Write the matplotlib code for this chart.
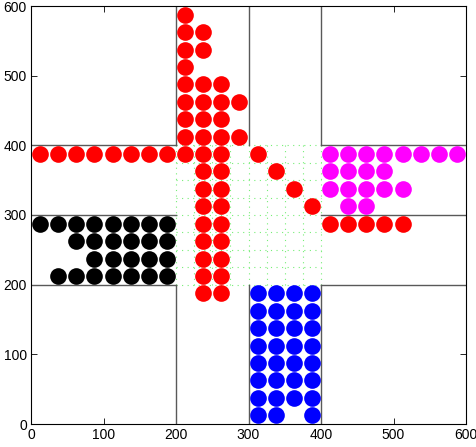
import numpy as np
import matplotlib
import matplotlib.pyplot as plt

matplotlib.use('agg')
plt.rcParams['font.family'] = ['Liberation Sans', 'DejaVu Sans']

# vehicle centres, grouped by row (y: list of x)
red = {
    587.5: [212.5],
    562.5: [212.5, 237.5],
    537.5: [212.5, 237.5],
    512.5: [212.5],
    487.5: [212.5, 237.5, 262.5],
    462.5: [212.5, 237.5, 262.5, 287.5],
    437.5: [212.5, 237.5, 262.5],
    412.5: [212.5, 237.5, 262.5, 287.5],
    387.5: [12.5, 37.5, 62.5, 87.5, 112.5, 137.5, 162.5, 187.5, 212.5, 237.5, 262.5, 312.5],
    362.5: [237.5, 262.5, 337.5],
    337.5: [237.5, 262.5, 362.5],
    312.5: [237.5, 262.5, 387.5],
    287.5: [237.5, 262.5, 412.5, 437.5, 462.5, 487.5, 512.5],
    262.5: [237.5, 262.5],
    237.5: [237.5, 262.5],
    212.5: [237.5, 262.5],
    187.5: [237.5, 262.5],
}
magenta = {
    387.5: [412.5, 437.5, 462.5, 487.5, 512.5, 537.5, 562.5, 587.5],
    362.5: [412.5, 437.5, 462.5, 487.5],
    337.5: [412.5, 437.5, 462.5, 487.5, 512.5],
    312.5: [437.5, 462.5],
}
black = {
    287.5: [12.5, 37.5, 62.5, 87.5, 112.5, 137.5, 162.5, 187.5],
    262.5: [62.5, 87.5, 112.5, 137.5, 162.5, 187.5],
    237.5: [87.5, 112.5, 137.5, 162.5, 187.5],
    212.5: [37.5, 62.5, 87.5, 112.5, 137.5, 162.5, 187.5],
}
blue = {
    187.5: [312.5, 337.5, 362.5, 387.5],
    162.5: [312.5, 337.5, 362.5, 387.5],
    137.5: [312.5, 337.5, 362.5, 387.5],
    112.5: [312.5, 337.5, 362.5, 387.5],
    87.5: [312.5, 337.5, 362.5, 387.5],
    62.5: [312.5, 337.5, 362.5, 387.5],
    37.5: [312.5, 337.5, 362.5, 387.5],
    12.5: [312.5, 337.5, 387.5],
}

# road kerbs / lane divider and intersection cell grid
road_lines = [200, 300, 400]
road_spans = [(0, 200), (400, 600)]
cell_lines = np.arange(200, 401, 25)


def flatten(rows):
    xs, ys = [], []
    for y, row in rows.items():
        xs += row
        ys += [y] * len(row)
    return xs, ys


fig = plt.figure(figsize=(4.77, 4.47), dpi=100)
ax = fig.add_axes([31/477, 23/447, 435/477, 418/447])

for c in cell_lines:
    ax.plot([c, c], [200, 400], color='#77ee77', linestyle=(0, (1, 4)), linewidth=0.8, zorder=1)
    ax.plot([200, 400], [c, c], color='#77ee77', linestyle=(0, (1, 4)), linewidth=0.8, zorder=1)

for r in road_lines:
    for a, b in road_spans:
        ax.plot([r, r], [a, b], color='0.35', linewidth=1.0, zorder=2)
        ax.plot([a, b], [r, r], color='0.35', linewidth=1.0, zorder=2)

for rows, col in [(red, '#ff0000'), (magenta, '#ff00ff'), (black, '#000000'), (blue, '#0000ff')]:
    xs, ys = flatten(rows)
    ax.plot(xs, ys, 'o', color=col, markersize=12, markeredgewidth=0, zorder=3)

ax.set_xlim(0, 600)
ax.set_ylim(0, 600)
ax.set_xticks(np.arange(0, 601, 100))
ax.set_yticks(np.arange(0, 601, 100))
ax.tick_params(direction='in', top=True, right=True, length=4, width=0.6, labelsize=10, pad=3)
for s in ax.spines.values():
    s.set_linewidth(0.8)

plt.savefig('out.png', dpi=100)
